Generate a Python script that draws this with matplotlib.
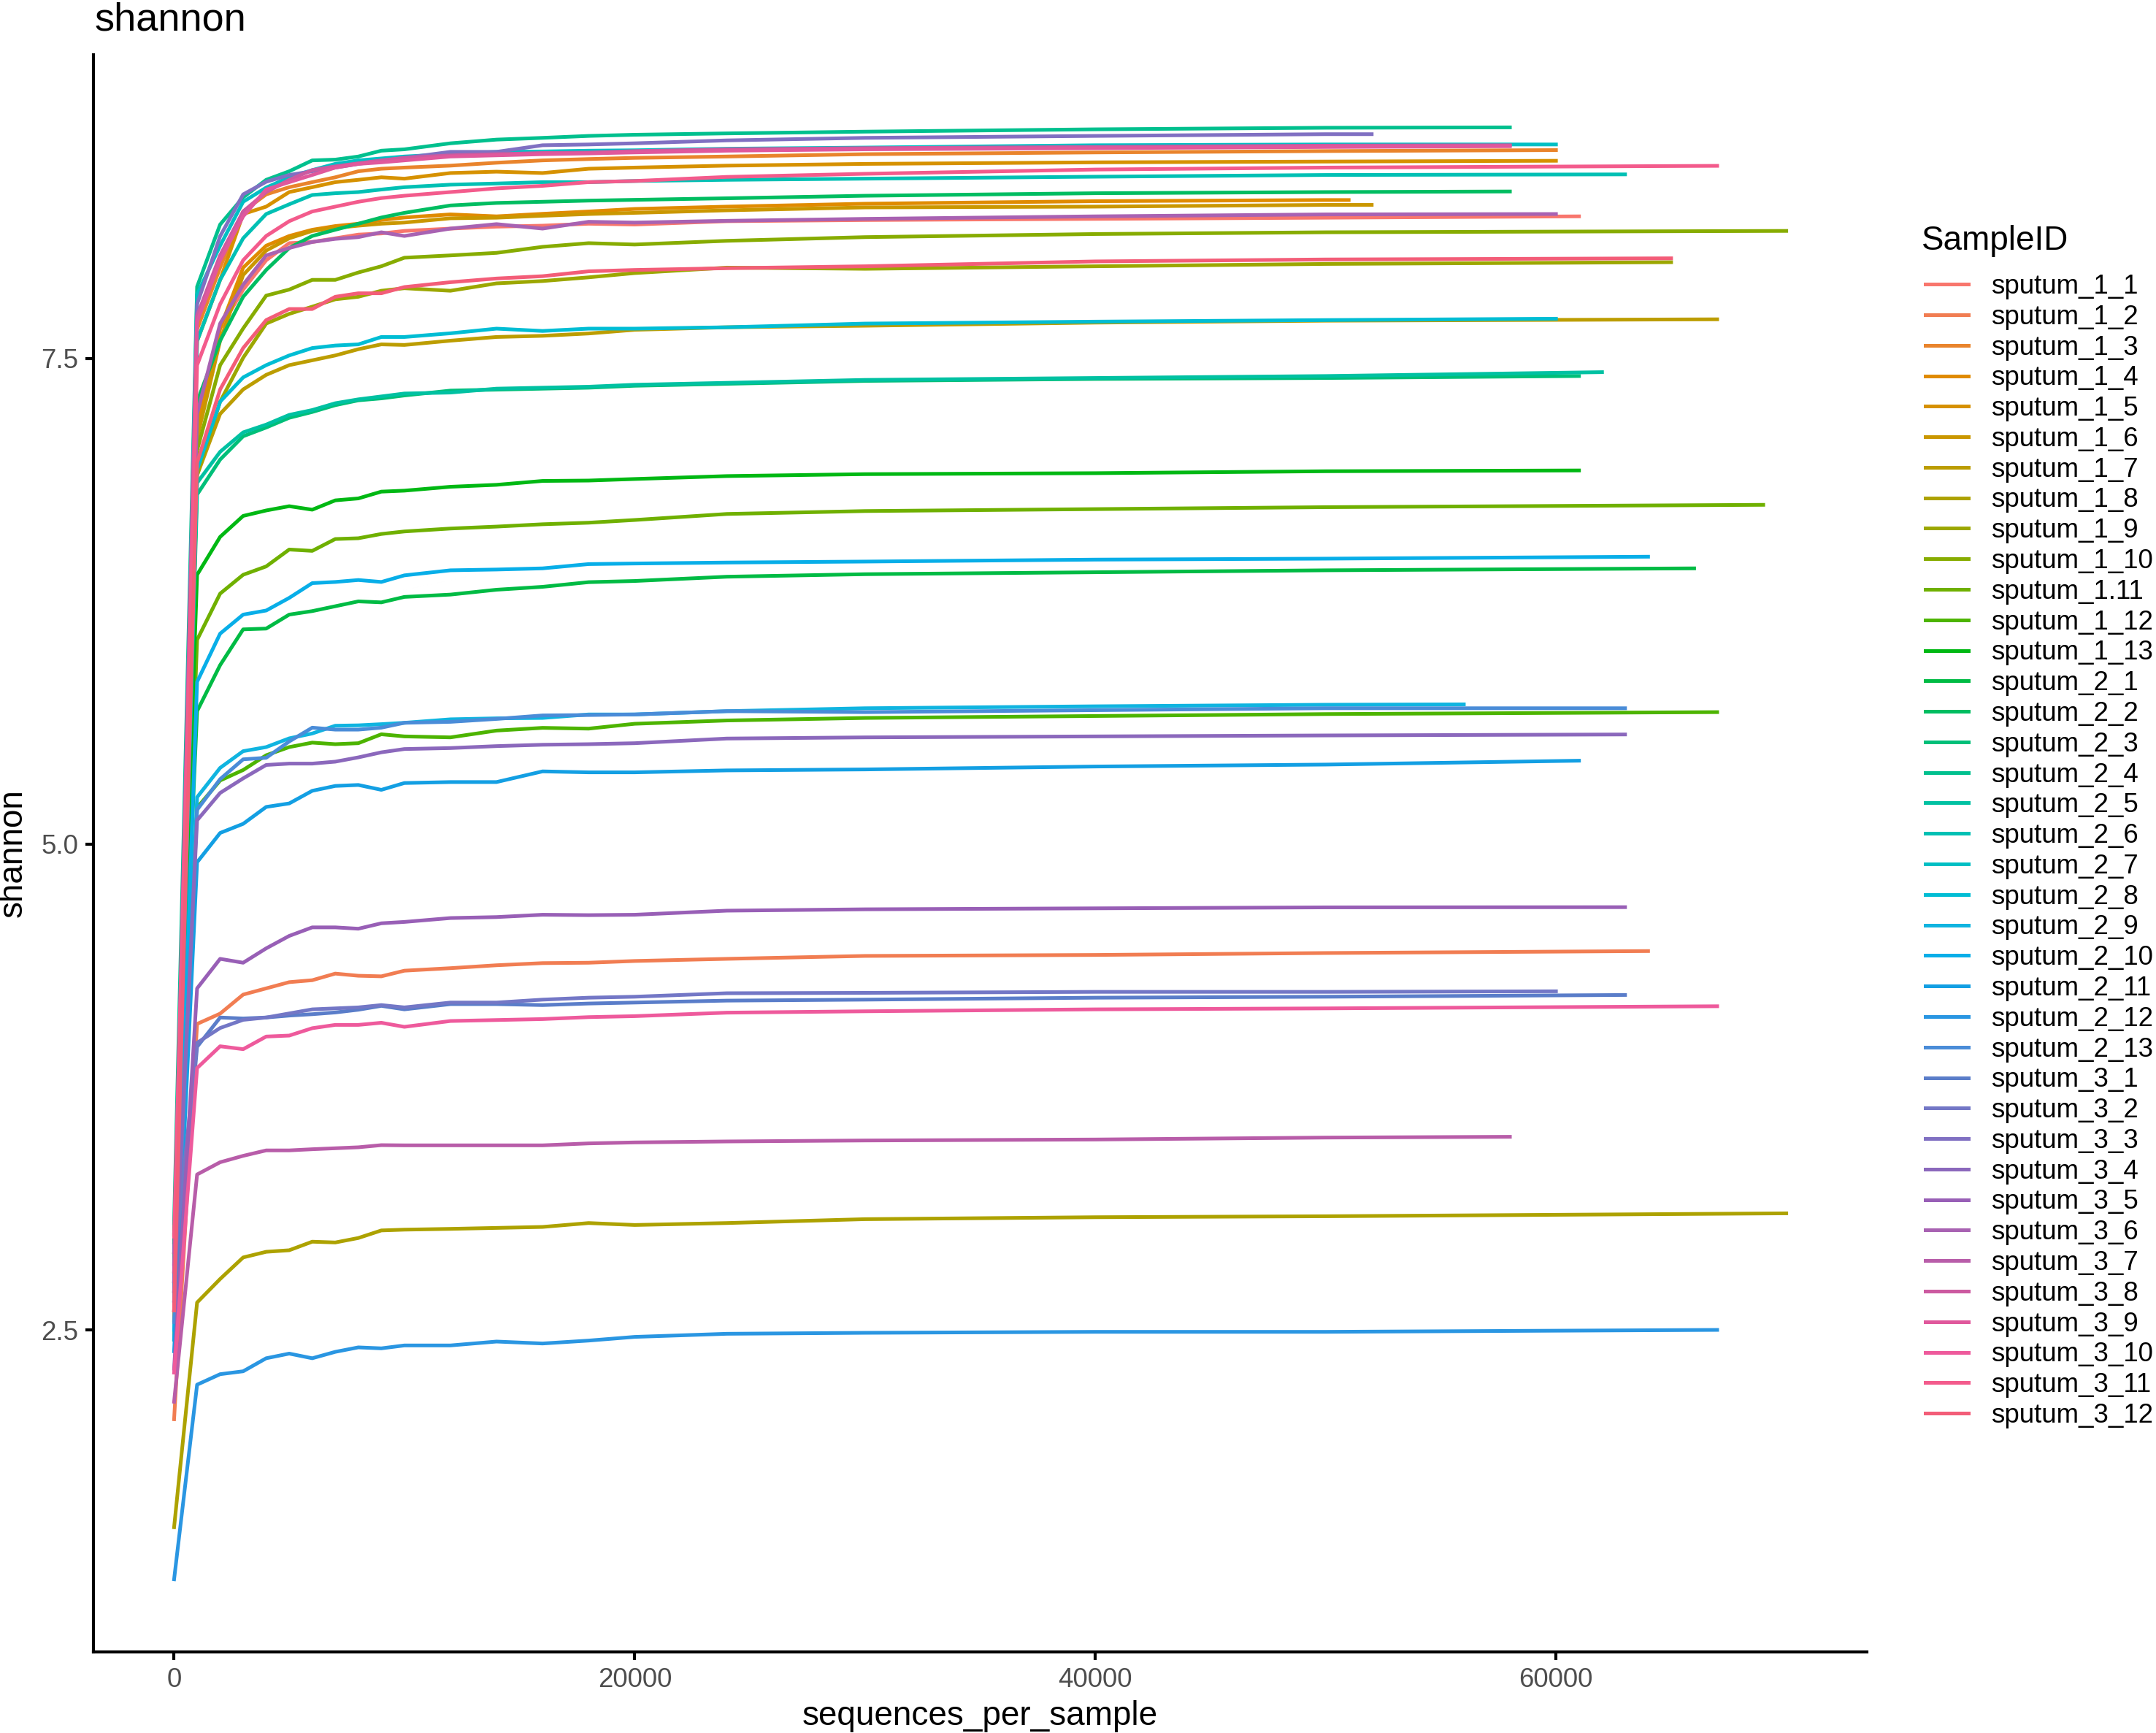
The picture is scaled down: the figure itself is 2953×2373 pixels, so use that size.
import numpy as np
import matplotlib
matplotlib.use("Agg")
import matplotlib.pyplot as plt

plt.rcParams['font.family'] = ['Liberation Sans', 'DejaVu Sans']

depths = [1, 1000, 2000, 3000, 4000, 5000, 6000, 7000, 8000, 9000, 10000,
          12000, 14000, 16000, 18000, 20000, 24000, 30000, 40000, 50000]

sample_ids = ['sputum_1_1', 'sputum_1_2', 'sputum_1_3', 'sputum_1_4', 'sputum_1_5',
              'sputum_1_6', 'sputum_1_7', 'sputum_1_8', 'sputum_1_9', 'sputum_1_10',
              'sputum_1.11', 'sputum_1_12', 'sputum_1_13',
              'sputum_2_1', 'sputum_2_2', 'sputum_2_3', 'sputum_2_4', 'sputum_2_5',
              'sputum_2_6', 'sputum_2_7', 'sputum_2_8', 'sputum_2_9', 'sputum_2_10',
              'sputum_2_11', 'sputum_2_12', 'sputum_2_13',
              'sputum_3_1', 'sputum_3_2', 'sputum_3_3', 'sputum_3_4', 'sputum_3_5',
              'sputum_3_6', 'sputum_3_7', 'sputum_3_8', 'sputum_3_9', 'sputum_3_10',
              'sputum_3_11', 'sputum_3_12']

# deepest rarefaction depth of each sample
max_depth = [61000, 64000, 60000, 51000, 60000, 52000, 67000, 70000, 65000, 70000,
             69000, 67000, 61000,
             66000, 58000, 61000, 58000, 62000, 63000, 60000, 60000, 56000, 64000,
             61000, 67000, 63000,
             63000, 60000, 52000, 63000, 63000, 60000, 58000, 58000, 58000, 67000,
             67000, 65000]

# shannon at each of `depths`, last value is at max_depth
s1_1 = [2.90, 7.09, 7.655, 7.855, 8.006, 8.094, 8.10, 8.119, 8.138, 8.144, 8.157, 8.169, 8.179, 8.184, 8.194, 8.19, 8.207, 8.213, 8.219, 8.225, 8.232]
s1_2 = [2.04, 4.075, 4.128, 4.226, 4.258, 4.29, 4.30, 4.334, 4.323, 4.32, 4.349, 4.362, 4.377, 4.388, 4.39, 4.399, 4.41, 4.425, 4.43, 4.44, 4.45]
s1_3 = [2.70, 7.65, 7.968, 8.257, 8.345, 8.382, 8.408, 8.433, 8.464, 8.477, 8.483, 8.493, 8.508, 8.52, 8.527, 8.533, 8.54, 8.552, 8.561, 8.568, 8.573]
s1_4 = [2.60, 7.152, 7.655, 7.968, 8.081, 8.131, 8.163, 8.182, 8.194, 8.213, 8.226, 8.242, 8.232, 8.245, 8.257, 8.27, 8.282, 8.297, 8.31, 8.316, 8.316]
s1_5 = [2.75, 7.59, 7.905, 8.244, 8.282, 8.357, 8.382, 8.408, 8.42, 8.433, 8.426, 8.455, 8.462, 8.455, 8.477, 8.483, 8.493, 8.502, 8.51, 8.514, 8.518]
s1_6 = [2.55, 7.09, 7.592, 7.93, 8.056, 8.119, 8.157, 8.172, 8.184, 8.194, 8.20, 8.222, 8.225, 8.235, 8.244, 8.25, 8.263, 8.278, 8.282, 8.291, 8.291]
s1_7 = [2.60, 6.90, 7.215, 7.341, 7.416, 7.466, 7.491, 7.516, 7.548, 7.573, 7.57, 7.592, 7.611, 7.617, 7.629, 7.648, 7.661, 7.669, 7.685, 7.695, 7.702]
s1_8 = [1.484, 2.641, 2.762, 2.873, 2.902, 2.91, 2.954, 2.95, 2.973, 3.012, 3.016, 3.02, 3.025, 3.03, 3.05, 3.04, 3.05, 3.07, 3.08, 3.085, 3.10]
s1_9 = [2.45, 6.90, 7.278, 7.504, 7.68, 7.73, 7.767, 7.805, 7.818, 7.849, 7.862, 7.849, 7.887, 7.899, 7.918, 7.94, 7.968, 7.962, 7.975, 7.987, 7.996]
s1_10 = [2.80, 7.027, 7.466, 7.655, 7.824, 7.855, 7.905, 7.905, 7.943, 7.975, 8.019, 8.031, 8.044, 8.075, 8.094, 8.087, 8.106, 8.125, 8.141, 8.15, 8.157]
s1_11 = [2.90, 6.052, 6.29, 6.387, 6.43, 6.517, 6.51, 6.571, 6.575, 6.597, 6.61, 6.625, 6.635, 6.647, 6.655, 6.669, 6.70, 6.715, 6.725, 6.735, 6.747]
s1_12 = [2.99, 5.188, 5.328, 5.382, 5.458, 5.50, 5.523, 5.515, 5.52, 5.566, 5.555, 5.55, 5.585, 5.599, 5.595, 5.62, 5.637, 5.65, 5.66, 5.67, 5.68]
s1_13 = [2.95, 6.387, 6.582, 6.69, 6.718, 6.74, 6.722, 6.77, 6.78, 6.815, 6.82, 6.84, 6.85, 6.87, 6.872, 6.88, 6.895, 6.905, 6.91, 6.92, 6.924]
s2_1 = [3.00, 5.685, 5.922, 6.106, 6.11, 6.182, 6.20, 6.225, 6.25, 6.245, 6.273, 6.285, 6.31, 6.325, 6.349, 6.355, 6.377, 6.39, 6.40, 6.41, 6.42]
s2_2 = [2.85, 7.278, 7.592, 7.818, 7.956, 8.069, 8.131, 8.163, 8.194, 8.226, 8.25, 8.288, 8.301, 8.307, 8.313, 8.317, 8.325, 8.338, 8.351, 8.357, 8.36]
s2_3 = [2.70, 6.80, 6.98, 7.10, 7.145, 7.195, 7.225, 7.26, 7.285, 7.295, 7.31, 7.335, 7.34, 7.345, 7.35, 7.36, 7.37, 7.385, 7.395, 7.40, 7.41]
s2_4 = [3.05, 7.87, 8.19, 8.33, 8.42, 8.464, 8.52, 8.524, 8.54, 8.57, 8.577, 8.608, 8.627, 8.636, 8.646, 8.652, 8.659, 8.668, 8.68, 8.688, 8.69]
s2_5 = [2.75, 6.86, 7.02, 7.12, 7.16, 7.21, 7.235, 7.27, 7.29, 7.305, 7.32, 7.325, 7.345, 7.35, 7.355, 7.365, 7.375, 7.39, 7.40, 7.41, 7.43]
s2_6 = [2.80, 7.59, 7.905, 8.119, 8.244, 8.294, 8.342, 8.351, 8.357, 8.37, 8.382, 8.395, 8.401, 8.408, 8.408, 8.414, 8.42, 8.426, 8.436, 8.445, 8.448]
s2_7 = [2.65, 7.83, 8.081, 8.307, 8.38, 8.433, 8.47, 8.502, 8.52, 8.53, 8.54, 8.552, 8.564, 8.566, 8.57, 8.572, 8.58, 8.586, 8.598, 8.602, 8.602]
s2_8 = [2.60, 6.927, 7.278, 7.403, 7.466, 7.516, 7.554, 7.567, 7.573, 7.611, 7.611, 7.63, 7.654, 7.642, 7.654, 7.654, 7.661, 7.68, 7.69, 7.698, 7.705]
s2_9 = [2.50, 5.242, 5.393, 5.479, 5.50, 5.545, 5.57, 5.61, 5.612, 5.618, 5.625, 5.643, 5.648, 5.65, 5.668, 5.668, 5.685, 5.70, 5.71, 5.718, 5.72]
s2_10 = [2.45, 5.836, 6.084, 6.182, 6.203, 6.268, 6.344, 6.35, 6.36, 6.35, 6.384, 6.41, 6.414, 6.42, 6.442, 6.445, 6.45, 6.455, 6.465, 6.47, 6.48]
s2_11 = [2.39, 4.907, 5.058, 5.105, 5.192, 5.21, 5.275, 5.30, 5.305, 5.28, 5.315, 5.32, 5.32, 5.375, 5.37, 5.37, 5.38, 5.385, 5.40, 5.41, 5.43]
s2_12 = [1.216, 2.218, 2.272, 2.287, 2.354, 2.378, 2.354, 2.387, 2.41, 2.405, 2.42, 2.42, 2.44, 2.43, 2.445, 2.464, 2.48, 2.485, 2.49, 2.49, 2.50]
s2_13 = [2.54, 5.177, 5.335, 5.437, 5.445, 5.529, 5.60, 5.59, 5.59, 5.60, 5.625, 5.63, 5.645, 5.663, 5.665, 5.668, 5.685, 5.68, 5.69, 5.70, 5.70]
s3_1 = [2.65, 3.957, 4.108, 4.103, 4.108, 4.118, 4.125, 4.134, 4.148, 4.168, 4.15, 4.177, 4.177, 4.172, 4.18, 4.185, 4.195, 4.20, 4.21, 4.215, 4.224]
s3_2 = [2.84, 3.978, 4.054, 4.096, 4.108, 4.129, 4.15, 4.155, 4.16, 4.172, 4.16, 4.185, 4.185, 4.20, 4.21, 4.215, 4.233, 4.235, 4.24, 4.24, 4.243]
s3_3 = [2.90, 7.78, 8.13, 8.345, 8.41, 8.445, 8.464, 8.483, 8.502, 8.518, 8.533, 8.564, 8.564, 8.598, 8.602, 8.608, 8.623, 8.636, 8.646, 8.655, 8.655]
s3_4 = [2.70, 5.123, 5.264, 5.339, 5.408, 5.415, 5.415, 5.425, 5.447, 5.473, 5.49, 5.495, 5.505, 5.512, 5.515, 5.52, 5.544, 5.55, 5.555, 5.56, 5.565]
s3_5 = [2.30, 4.258, 4.41, 4.39, 4.464, 4.528, 4.572, 4.572, 4.565, 4.593, 4.60, 4.62, 4.625, 4.637, 4.635, 4.637, 4.658, 4.665, 4.67, 4.675, 4.676]
s3_6 = [2.75, 7.215, 7.68, 7.88, 8.031, 8.069, 8.10, 8.116, 8.125, 8.15, 8.131, 8.169, 8.192, 8.169, 8.204, 8.20, 8.209, 8.219, 8.232, 8.242, 8.244]
s3_7 = [2.13, 3.30, 3.363, 3.396, 3.424, 3.424, 3.43, 3.435, 3.44, 3.451, 3.45, 3.45, 3.45, 3.45, 3.46, 3.465, 3.47, 3.475, 3.48, 3.49, 3.494]
s3_8 = [2.80, 7.72, 8.031, 8.257, 8.357, 8.42, 8.47, 8.489, 8.505, 8.52, 8.533, 8.546, 8.552, 8.558, 8.56, 8.568, 8.577, 8.583, 8.589, 8.596, 8.598]
s3_9 = [2.60, 7.69, 8.006, 8.232, 8.37, 8.408, 8.445, 8.483, 8.502, 8.51, 8.52, 8.54, 8.546, 8.552, 8.556, 8.561, 8.57, 8.577, 8.583, 8.589, 8.593]
s3_10 = [2.28, 3.848, 3.96, 3.945, 4.01, 4.015, 4.053, 4.07, 4.07, 4.081, 4.06, 4.09, 4.095, 4.10, 4.11, 4.115, 4.133, 4.14, 4.15, 4.155, 4.166]
s3_11 = [2.98, 7.466, 7.78, 8.006, 8.131, 8.207, 8.257, 8.282, 8.307, 8.326, 8.338, 8.357, 8.376, 8.389, 8.408, 8.414, 8.435, 8.451, 8.473, 8.483, 8.492]
s3_12 = [2.60, 6.964, 7.341, 7.554, 7.698, 7.755, 7.755, 7.818, 7.836, 7.836, 7.868, 7.893, 7.912, 7.924, 7.949, 7.956, 7.965, 7.975, 8.00, 8.01, 8.016]

shannon = [s1_1, s1_2, s1_3, s1_4, s1_5, s1_6, s1_7, s1_8, s1_9, s1_10, s1_11, s1_12, s1_13,
           s2_1, s2_2, s2_3, s2_4, s2_5, s2_6, s2_7, s2_8, s2_9, s2_10, s2_11, s2_12, s2_13,
           s3_1, s3_2, s3_3, s3_4, s3_5, s3_6, s3_7, s3_8, s3_9, s3_10, s3_11, s3_12]


def hue_pal(n, h=(15, 375), c=100.0, l=65.0):
    # same colours as ggplot2's default discrete scale (polar LUV -> sRGB)
    if (h[1] - h[0]) % 360 < 1:
        h = (h[0], h[1] - 360.0 / n)
    hues = np.radians(np.linspace(h[0], h[1], n) % 360)
    xn, yn, zn = 95.047, 100.0, 108.883
    t = xn + yn + zn
    x, y = xn / t, yn / t
    un = 2 * x / (6 * y - x + 1.5)
    vn = 4.5 * y / (6 * y - x + 1.5)
    Y = yn * ((l + 16) / 116) ** 3
    u = c * np.cos(hues) / (13 * l) + un
    v = c * np.sin(hues) / (13 * l) + vn
    X = 9.0 * Y * u / (4 * v)
    Z = -X / 3 - 5 * Y + 3 * Y / v
    rgb = np.array([3.240479 * X - 1.537150 * Y - 0.498535 * Z,
                    -0.969256 * X + 1.875992 * Y + 0.041556 * Z,
                    0.055648 * X - 0.204043 * Y + 1.057311 * Z]) / yn
    rgb = np.where(rgb > 0.00304, 1.055 * np.abs(rgb) ** (1 / 2.4) - 0.055, 12.92 * rgb)
    return [tuple(col) for col in np.clip(rgb, 0, 1).T]


colors = hue_pal(len(sample_ids))
# the blues / purples / pinks in the figure come out duller than the pure hue palette
colors[21:] = ['#10B4E0', '#08AEE8', '#139FE3', '#2A96E2', '#4A8CD8',
               '#5A7DC9', '#7377C6', '#8070C2', '#8B68BC', '#985FB6', '#A862B2',
               '#B85DA9', '#CC5AA0', '#E0589C', '#EE5A9C', '#F35B8C', '#F35D78']

fig = plt.figure(figsize=(2953 / 300, 2373 / 300), dpi=300)
ax = fig.add_axes([128 / 2953, 1 - 2262 / 2373, (2557 - 128) / 2953, (2262 - 75) / 2373])

handles = []
for name, vals, end, col in zip(sample_ids, shannon, max_depth, colors):
    xs = depths + [end]
    line, = ax.plot(xs, vals, color=col, lw=1.2, solid_joinstyle='round', label=name)
    handles.append(line)

# ggplot style 5% expansion
all_y = [v for vals in shannon for v in vals]
ymin, ymax = min(all_y), max(all_y)
xmax = max(max_depth)
ax.set_xlim(-0.05 * xmax, 1.05 * xmax)
ax.set_ylim(ymin - 0.05 * (ymax - ymin), ymax + 0.05 * (ymax - ymin))

ax.set_xticks([0, 20000, 40000, 60000])
ax.set_xticklabels(['0', '20000', '40000', '60000'])
ax.set_yticks([2.5, 5.0, 7.5])
ax.set_yticklabels(['2.5', '5.0', '7.5'])

for side in ['top', 'right']:
    ax.spines[side].set_visible(False)
for side in ['left', 'bottom']:
    ax.spines[side].set_linewidth(1.0)
    ax.spines[side].set_color('black')
ax.tick_params(length=2.75, width=1.0, color='black', labelsize=8.8,
               labelcolor='#4D4D4D', pad=2.2)

ax.set_xlabel('sequences_per_sample', fontsize=11, labelpad=2.5)
ax.set_ylabel('shannon', fontsize=11, labelpad=4)
fig.text(130 / 2953, 1 - 42 / 2373, 'shannon', fontsize=13, va='baseline', ha='left')

fig.text(2632 / 2953, 1 - 342 / 2373, 'SampleID', fontsize=11, va='baseline', ha='left')
fig.legend(handles=handles, loc='upper left', bbox_to_anchor=(2637 / 2953, 1 - 375 / 2373),
           frameon=False, fontsize=8.8, borderpad=0, borderaxespad=0,
           handlelength=1.6, handletextpad=0.85, labelspacing=0.185)

fig.savefig('out.png', dpi=300)
